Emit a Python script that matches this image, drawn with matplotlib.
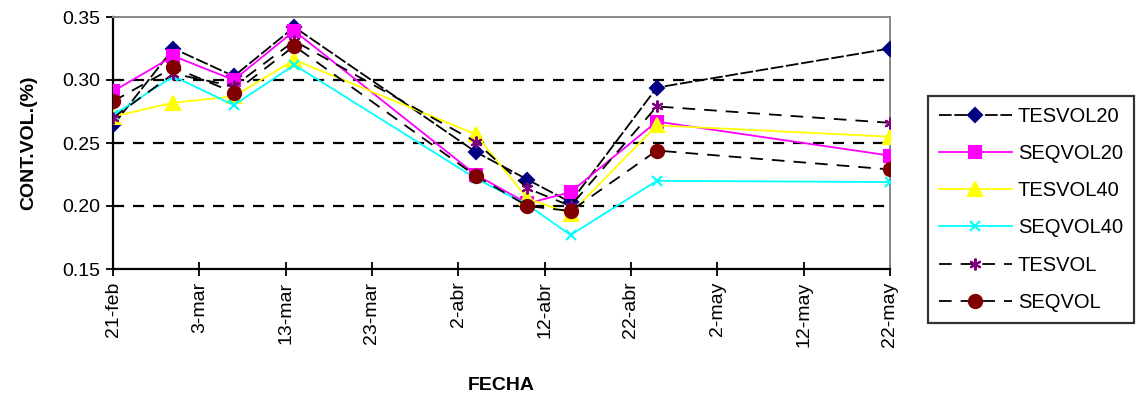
import matplotlib
matplotlib.use("Agg")
import matplotlib.pyplot as plt
import datetime as dt

# sampling dates (day-month), year only used for the date axis
fechas = ["2005-02-21", "2005-02-28", "2005-03-07", "2005-03-14", "2005-04-04",
          "2005-04-10", "2005-04-15", "2005-04-25", "2005-05-22"]

tesvol20 = [0.264, 0.325, 0.303, 0.342, 0.243, 0.221, 0.203, 0.294, 0.325]
seqvol20 = [0.291, 0.319, 0.300, 0.339, 0.225, 0.202, 0.211, 0.267, 0.240]
tesvol40 = [0.271, 0.282, 0.287, 0.316, 0.257, 0.206, 0.194, 0.264, 0.255]
seqvol40 = [0.272, 0.303, 0.280, 0.312, 0.222, 0.201, 0.177, 0.220, 0.219]
tesvol = [0.270, 0.305, 0.295, 0.331, 0.251, 0.214, 0.200, 0.279, 0.266]
seqvol = [0.283, 0.310, 0.290, 0.327, 0.224, 0.200, 0.196, 0.244, 0.229]

tick_dates = ["2005-02-21", "2005-03-03", "2005-03-13", "2005-03-23", "2005-04-02",
              "2005-04-12", "2005-04-22", "2005-05-02", "2005-05-12", "2005-05-22"]
tick_labels = ["21-feb", "3-mar", "13-mar", "23-mar", "2-abr",
               "12-abr", "22-abr", "2-may", "12-may", "22-may"]
y_ticks = [0.15, 0.20, 0.25, 0.30, 0.35]
grid_levels = [0.20, 0.25, 0.30]

plt.rcParams["font.family"] = ["Liberation Sans", "DejaVu Sans"]

x = [dt.datetime.strptime(d, "%Y-%m-%d") for d in fechas]
xt = [dt.datetime.strptime(d, "%Y-%m-%d") for d in tick_dates]

fig = plt.figure(figsize=(11.38, 4.0), dpi=100)
ax = fig.add_axes([0.0993, 0.3275, 0.6827, 0.63])

for g in grid_levels:
    ax.axhline(g, color="black", linewidth=1.6, linestyle=(0, (5, 4)), zorder=1)

series = [
    ("TESVOL20", tesvol20, "black", (0, (7, 1.5)), "D", "#000080", 7.5),
    ("SEQVOL20", seqvol20, "#ff00ff", "-", "s", "#ff00ff", 8.5),
    ("TESVOL40", tesvol40, "#ffff00", "-", "^", "#ffff00", 9.5),
    ("SEQVOL40", seqvol40, "#00ffff", "-", "x", "#00ffff", 7.5),
    ("TESVOL", tesvol, "black", (0, (7, 5)), (6, 2, 0), "#800080", 8.5),
    ("SEQVOL", seqvol, "black", (0, (7, 5)), "o", "#800000", 9.5),
]
for name, vals, lc, ls, mk, mc, ms in series:
    ax.plot(x, vals, color=lc, linestyle=ls, linewidth=1.3, marker=mk,
            markersize=ms, markerfacecolor=mc, markeredgecolor=mc,
            markeredgewidth=1.5, label=name, zorder=3)

ax.set_ylim(0.15, 0.35)
ax.set_yticks(y_ticks)
ax.set_yticklabels([f"{v:.2f}" for v in y_ticks], fontsize=14)
ax.set_xlim(xt[0], xt[-1])
ax.set_xticks(xt)
ax.set_xticklabels(tick_labels, rotation=90, fontsize=14)
ax.tick_params(axis="both", direction="inout", length=10, width=1.3, pad=4)

for side in ["left", "bottom"]:
    ax.spines[side].set_linewidth(1.6)
    ax.spines[side].set_color("black")
for side in ["top", "right"]:
    ax.spines[side].set_linewidth(1.4)
    ax.spines[side].set_color("#888888")

ax.set_ylabel("CONT.VOL.(%)", fontsize=14, fontweight="bold", labelpad=18)
ax.set_xlabel("FECHA", fontsize=14, fontweight="bold", labelpad=22)

leg = fig.legend(loc="upper left", bbox_to_anchor=(0.8155, 0.76), fontsize=14.5,
                 frameon=True, fancybox=False, edgecolor="black",
                 handlelength=3.6, labelspacing=0.9, borderpad=0.55,
                 handletextpad=0.3, borderaxespad=0)
leg.get_frame().set_linewidth(1.6)

fig.savefig("out.png", dpi=100)
